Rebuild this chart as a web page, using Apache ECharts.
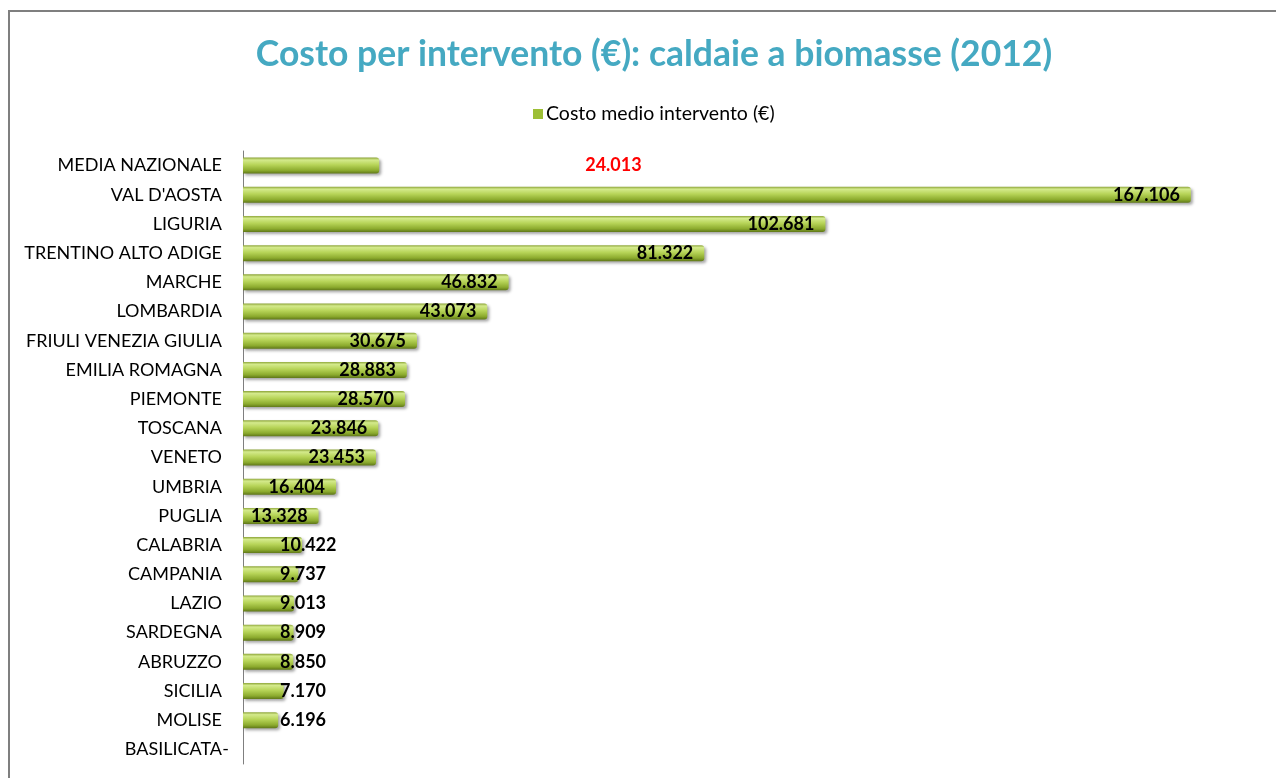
<!DOCTYPE html>
<html>
<head>
<meta charset="utf-8">
<title>Costo per intervento</title>
<script src="https://cdn.jsdelivr.net/npm/echarts@6/dist/echarts.min.js"></script>
<style>
  html, body { margin: 0; padding: 0; background: #fff; }
  #myChart { width: 1276px; height: 778px; }
</style>
</head>
<body>
<div id="myChart"></div>
<script>
// dati
var regioni = [
  "MEDIA NAZIONALE", "VAL D'AOSTA", "LIGURIA", "TRENTINO ALTO ADIGE", "MARCHE",
  "LOMBARDIA", "FRIULI VENEZIA GIULIA", "EMILIA ROMAGNA", "PIEMONTE", "TOSCANA",
  "VENETO", "UMBRIA", "PUGLIA", "CALABRIA", "CAMPANIA", "LAZIO", "SARDEGNA",
  "ABRUZZO", "SICILIA", "MOLISE", "BASILICATA"
];
var costoMedio = [
  24013, 167106, 102681, 81322, 46832,
  43073, 30675, 28883, 28570, 23846,
  23453, 16404, 13328, 10422, 9737, 9013, 8909,
  8850, 7170, 6196, 0
];

// formato italiano 24.013
function fmt(v) {
  return String(v).replace(/\B(?=(\d{3})+(?!\d))/g, ".");
}

var barColor = new echarts.graphic.LinearGradient(0, 0, 0, 1, [
  { offset: 0, color: "#8ea63a" },
  { offset: 0.15, color: "#d4ea8c" },
  { offset: 0.45, color: "#b7d458" },
  { offset: 0.8, color: "#8cab2e" },
  { offset: 1, color: "#5f7718" }
]);

var seriesData = costoMedio.map(function (v, i) {
  var item = { value: v };
  if (i === 0) {
    // media nazionale: etichetta rossa spostata a destra
    item.label = { position: "right", distance: 206, color: "#ff0000" };
  } else if (v === 0) {
    item.label = { position: "left", distance: 14, fontWeight: "normal", fontSize: 18, formatter: "-" };
  } else if (v < 12000) {
    item.label = { position: "insideLeft", offset: [26, 0] };
  }
  return item;
});

var myChart = echarts.init(document.getElementById("myChart"));

var option = {
  backgroundColor: "#fff",
  textStyle: { fontFamily: "Lato" },
  title: {
    text: "Costo per intervento (€): caldaie a biomasse (2012)",
    left: 649,
    textAlign: "center",
    top: 32,
    textStyle: { color: "#45a9c2", fontSize: 35.5, fontWeight: "bold", fontFamily: "Lato" }
  },
  legend: {
    data: ["Costo medio intervento (€)"],
    left: 528,
    top: 99,
    icon: "rect",
    itemWidth: 10,
    itemHeight: 10,
    itemGap: 4,
    itemStyle: { color: "#9dbf36" },
    textStyle: { color: "#000", fontSize: 19.5, fontFamily: "Lato", padding: [0, 0, 0, -2] }
  },
  graphic: [{
    type: "rect",
    shape: { x: 9, y: 11, width: 1400, height: 900 },
    style: { fill: "none", stroke: "#7f7f7f", lineWidth: 2 },
    silent: true
  }],
  grid: { left: 243, right: 12, top: 151, bottom: 14, containLabel: false },
  xAxis: {
    type: "value",
    min: 0,
    max: 180000,
    show: false,
    splitLine: { show: false }
  },
  yAxis: {
    type: "category",
    inverse: true,
    data: regioni,
    axisLine: { show: true, lineStyle: { color: "#7f7f7f", width: 1 } },
    axisTick: { show: false },
    axisLabel: { color: "#000", fontSize: 18, margin: 21, fontFamily: "Lato" }
  },
  series: [{
    name: "Costo medio intervento (€)",
    type: "bar",
    barWidth: 16,
    data: seriesData,
    itemStyle: {
      color: barColor,
      borderRadius: [0, 3, 3, 0],
      shadowColor: "rgba(0,0,0,0.35)",
      shadowBlur: 3,
      shadowOffsetX: 2,
      shadowOffsetY: 2
    },
    label: {
      show: true,
      position: "insideRight",
      distance: 11,
      color: "#000",
      fontSize: 18,
      fontWeight: "bold",
      fontFamily: "Lato",
      formatter: function (p) { return fmt(p.value); }
    }
  }]
};

myChart.setOption(option);
window.addEventListener("resize", function () {
  myChart.resize();
});
</script>
</body>
</html>
